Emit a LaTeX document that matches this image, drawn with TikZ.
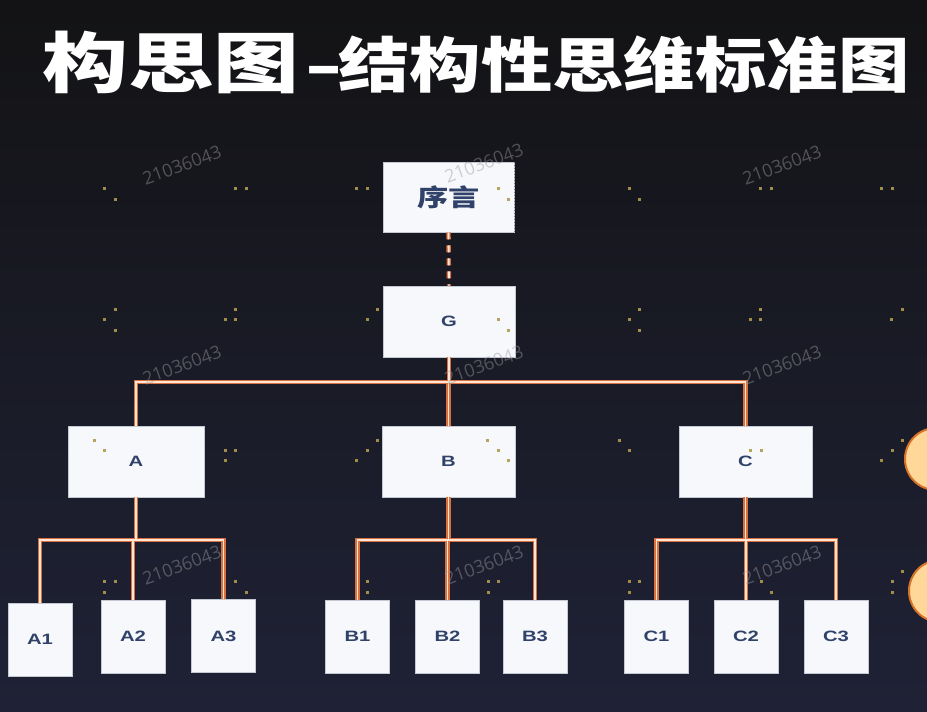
\documentclass[tikz,border=0pt]{standalone}
\usepackage{fontspec}
\usepackage{graphicx}
\setsansfont{Liberation Sans}
\newfontfamily\cjkfont{Noto Sans CJK SC}
\newfontfamily\markfont{Open Sans}

\definecolor{bgTop}{HTML}{131315}
\definecolor{bgMid}{HTML}{1D1D21}
\definecolor{bgBot}{HTML}{1F2236}
\definecolor{boxFill}{HTML}{F7F8FB}
\definecolor{boxEdge}{HTML}{C4C8D2}
\definecolor{lblCol}{HTML}{30426A}
\definecolor{lineEdge}{HTML}{D9703F}
\definecolor{lineCore}{HTML}{FFE6D4}
\definecolor{dotCol}{HTML}{B09A4C}
\definecolor{wmCol}{HTML}{9A9A9E}
\definecolor{circFill}{HTML}{FFD798}
\definecolor{circEdge}{HTML}{D8742A}

% horizontal stretch used for every printed label
\newcommand{\wx}[2][1.35]{\scalebox{#1}[1]{#2}}

\tikzset{
  box/.style={rectangle, fill=boxFill, draw=boxEdge, line width=0.6pt,
    inner sep=0pt, text=lblCol, font=\sffamily\bfseries\fontsize{15}{15}\selectfont},
  midbox/.style={box, minimum width=133pt, minimum height=71pt},
  leafbox/.style={box, minimum width=64pt, minimum height=73pt},
  conn/.style={draw=lineEdge, line width=1.3pt, double=lineCore, double distance=1.8pt},
  dotmark/.style={fill=dotCol, opacity=0.9},
  wm/.style={text=wmCol, text opacity=0.45, font=\markfont\fontsize{18}{18}\selectfont, rotate=20, inner sep=0pt},
  titlefont/.style={text=white, inner sep=0pt, font=\cjkfont\bfseries}
}

\begin{document}
\begin{tikzpicture}[x=1pt, y=-1pt]
\useasboundingbox (0,0) rectangle (927,712);
\clip (0,0) rectangle (927,712);

% backdrop
\shade[top color=bgTop, middle color=bgMid, bottom color=bgBot] (0,0) rectangle (927,712);

% decorative discs at the right edge
\filldraw[fill=circFill, draw=circEdge, line width=2pt] (936,459) circle[radius=31];
\filldraw[fill=circFill, draw=circEdge, line width=2pt] (940,591) circle[radius=31];

% heading
\node[titlefont, anchor=base west] (title1) at (42,87)
  {\fontsize{66}{66}\selectfont\wx[1.3]{构思图}};
\node[titlefont, anchor=base] (dash) at (324,87)
  {\fontsize{60}{60}\selectfont\wx[1.7]{-}};
\node[titlefont, anchor=base west] (title2) at (338,87)
  {\fontsize{60}{60}\selectfont\wx[1.19]{结构性思维标准图}};

% boxes
\node[box, minimum width=131pt, minimum height=70pt, font=\cjkfont\bfseries\fontsize{24}{24}\selectfont]
  (pre) at (448.5,197) {\wx[1.3]{序言}};
\draw[gray, line width=0.8pt, dash pattern=on 1.5pt off 1.5pt]
  (pre.north east) -- (pre.south east);
\node[midbox, minimum width=132pt] (G) at (449,321.5) {\wx{G}};

\node[midbox, minimum width=136pt] (A) at (136,461.5) {\wx{A}};
\node[midbox] (B) at (448.5,461.5) {\wx{B}};
\node[midbox] (C) at (745.5,461.5) {\wx{C}};

\node[leafbox] (A1) at (40,639.5) {\wx{A1}};
\node[leafbox] (A2) at (133,636.5) {\wx{A2}};
\node[leafbox] (A3) at (223.5,636) {\wx{A3}};
\node[leafbox] (B1) at (357.5,636.5) {\wx{B1}};
\node[leafbox] (B2) at (447.5,636.5) {\wx{B2}};
\node[leafbox] (B3) at (535,636.5) {\wx{B3}};
\node[leafbox] (C1) at (656.5,636.5) {\wx{C1}};
\node[leafbox] (C2) at (746,636.5) {\wx{C2}};
\node[leafbox] (C3) at (836,636.5) {\wx{C3}};

% connectors
\coordinate (lvl1) at (0,382);
\coordinate (lvl2) at (0,540);
\draw[conn, dash pattern=on 7pt off 6pt] (pre.south) -- (G.north);
\draw[conn]
  (G.south) -- (G.south |- lvl1)
  (A.north) -- (A.north |- lvl1) -- (C.north |- lvl1) -- (C.north)
  (B.north) -- (B.north |- lvl1)
  (A.south) -- (A.south |- lvl2)
  (A1.north) -- (A1.north |- lvl2) -- (A3.north |- lvl2) -- (A3.north)
  (A2.north) -- (A2.north |- lvl2)
  (B.south) -- (B.south |- lvl2)
  (B1.north) -- (B1.north |- lvl2) -- (B3.north |- lvl2) -- (B3.north)
  (B2.north) -- (B2.north |- lvl2)
  (C.south) -- (C.south |- lvl2)
  (C1.north) -- (C1.north |- lvl2) -- (C3.north |- lvl2) -- (C3.north)
  (C2.north) -- (C2.north |- lvl2);

% watermark stamps
\foreach \i/\x/\y in {1/182/165, 2/484/163, 3/782/165,
                      4/182/365, 5/484/365, 6/782/365,
                      7/182/565, 8/484/565, 9/782/565}
  \node[wm] (wm-\i) at (\x,\y) {21036043};

% speckles
\foreach \x/\y in {104/188,115/199,235/188,246/188,356/188,367/188,498/188,508/199,
                   629/188,639/199,760/188,771/188,881/188,892/188,
                   115/309,104/319,115/330,225/319,235/319,235/309,367/319,377/309,
                   498/319,508/330,639/309,629/319,639/330,750/319,760/319,760/309,
                   891/319,902/309,
                   94/440,104/450,225/450,235/450,225/460,377/440,367/450,356/460,
                   487/440,498/450,508/460,619/440,629/450,750/450,761/450,
                   902/440,892/450,881/460,
                   104/581,115/581,104/592,235/581,246/592,367/581,367/592,
                   488/581,498/581,488/592,629/581,639/581,629/592,761/581,771/592,
                   892/581,892/592,902/571}
  \fill[dotmark] (\x-1.3,\y-1.3) rectangle ++(2.8,2.8);
\end{tikzpicture}
\end{document}
